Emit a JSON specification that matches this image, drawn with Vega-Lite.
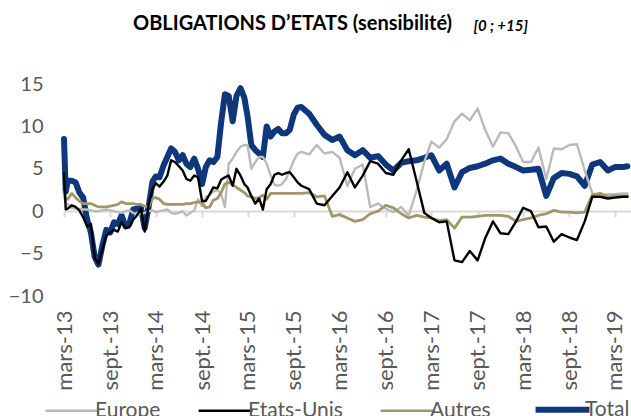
{
  "$schema": "https://vega.github.io/schema/vega-lite/v6.json",
  "width": 567,
  "height": 212,
  "autosize": {"type": "none"},
  "padding": {"left": 64, "top": 84, "right": 0, "bottom": 120},
  "background": "white",
  "config": {"font": "Lato", "view": {"stroke": null}},
  "title": {
    "text": "OBLIGATIONS D\u2019ETATS (sensibilité)",
    "anchor": "start",
    "frame": "group",
    "dx": 69,
    "offset": -16,
    "font": "Lato",
    "fontSize": 20,
    "fontWeight": "bold",
    "color": "#000000"
  },
  "data": {
    "values": [
      {"d":"2013-03-01","Europe":1.7,"Etats-Unis":4.5,"Autres":2.2,"Total":8.5},
      {"d":"2013-03-08","Europe":1.0,"Etats-Unis":0.2,"Autres":1.5,"Total":2.3},
      {"d":"2013-03-16","Europe":0.8,"Etats-Unis":0.3,"Autres":1.4,"Total":3.6},
      {"d":"2013-04-01","Europe":0.4,"Etats-Unis":0.7,"Autres":2.1,"Total":3.6},
      {"d":"2013-04-16","Europe":0.3,"Etats-Unis":0.5,"Autres":1.6,"Total":3.4},
      {"d":"2013-05-01","Europe":0.3,"Etats-Unis":0.1,"Autres":1.2,"Total":2.2},
      {"d":"2013-05-16","Europe":0.2,"Etats-Unis":-0.7,"Autres":0.9,"Total":1.6},
      {"d":"2013-06-01","Europe":0.2,"Etats-Unis":-1.8,"Autres":0.9,"Total":-1.0},
      {"d":"2013-06-16","Europe":0.1,"Etats-Unis":-1.5,"Autres":0.9,"Total":-2.5},
      {"d":"2013-07-01","Europe":0.0,"Etats-Unis":-5.5,"Autres":0.7,"Total":-5.4},
      {"d":"2013-07-16","Europe":0.0,"Etats-Unis":-6.2,"Autres":0.5,"Total":-6.3},
      {"d":"2013-08-01","Europe":0.1,"Etats-Unis":-4.5,"Autres":0.5,"Total":-4.0},
      {"d":"2013-08-16","Europe":0.2,"Etats-Unis":-2.9,"Autres":0.5,"Total":-2.2},
      {"d":"2013-09-01","Europe":0.1,"Etats-Unis":-2.5,"Autres":0.6,"Total":-2.5},
      {"d":"2013-09-16","Europe":0.0,"Etats-Unis":-2.2,"Autres":0.7,"Total":-1.3},
      {"d":"2013-10-01","Europe":-0.1,"Etats-Unis":-2.4,"Autres":0.8,"Total":-1.5},
      {"d":"2013-10-16","Europe":-0.2,"Etats-Unis":-1.3,"Autres":1.1,"Total":-0.5},
      {"d":"2013-11-01","Europe":0.0,"Etats-Unis":-2.0,"Autres":0.9,"Total":-1.8},
      {"d":"2013-11-16","Europe":0.1,"Etats-Unis":-1.9,"Autres":0.9,"Total":-1.5},
      {"d":"2013-12-01","Europe":-0.2,"Etats-Unis":-1.0,"Autres":0.9,"Total":0.2},
      {"d":"2013-12-16","Europe":-0.4,"Etats-Unis":-0.5,"Autres":0.8,"Total":0.3},
      {"d":"2014-01-01","Europe":-0.3,"Etats-Unis":0.3,"Autres":0.8,"Total":0.4},
      {"d":"2014-01-16","Europe":-0.2,"Etats-Unis":-2.4,"Autres":0.6,"Total":-2.0},
      {"d":"2014-02-01","Europe":0.0,"Etats-Unis":0.8,"Autres":0.5,"Total":0.6},
      {"d":"2014-02-16","Europe":0.1,"Etats-Unis":2.6,"Autres":1.5,"Total":3.5},
      {"d":"2014-03-01","Europe":-0.1,"Etats-Unis":3.3,"Autres":1.6,"Total":4.1},
      {"d":"2014-03-16","Europe":0.0,"Etats-Unis":2.9,"Autres":1.4,"Total":4.0},
      {"d":"2014-04-01","Europe":0.1,"Etats-Unis":3.5,"Autres":0.9,"Total":5.4},
      {"d":"2014-04-16","Europe":0.2,"Etats-Unis":4.2,"Autres":0.8,"Total":6.4},
      {"d":"2014-05-01","Europe":-0.2,"Etats-Unis":6.0,"Autres":0.8,"Total":7.4},
      {"d":"2014-05-16","Europe":-0.3,"Etats-Unis":5.8,"Autres":0.8,"Total":7.0},
      {"d":"2014-06-01","Europe":-0.2,"Etats-Unis":5.3,"Autres":0.8,"Total":6.0},
      {"d":"2014-06-16","Europe":0.0,"Etats-Unis":4.8,"Autres":0.8,"Total":6.6},
      {"d":"2014-07-01","Europe":-0.5,"Etats-Unis":3.8,"Autres":0.9,"Total":5.6},
      {"d":"2014-07-16","Europe":-0.2,"Etats-Unis":3.6,"Autres":0.9,"Total":5.2},
      {"d":"2014-08-01","Europe":0.1,"Etats-Unis":4.2,"Autres":1.0,"Total":6.2},
      {"d":"2014-08-16","Europe":1.4,"Etats-Unis":4.0,"Autres":1.1,"Total":5.0},
      {"d":"2014-09-01","Europe":0.6,"Etats-Unis":1.2,"Autres":1.0,"Total":3.2},
      {"d":"2014-09-16","Europe":1.7,"Etats-Unis":1.2,"Autres":0.4,"Total":5.2},
      {"d":"2014-10-01","Europe":1.9,"Etats-Unis":2.0,"Autres":0.5,"Total":6.0},
      {"d":"2014-10-16","Europe":2.3,"Etats-Unis":2.8,"Autres":1.3,"Total":5.8},
      {"d":"2014-11-01","Europe":2.5,"Etats-Unis":2.7,"Autres":1.5,"Total":6.4},
      {"d":"2014-11-16","Europe":2.0,"Etats-Unis":3.7,"Autres":2.2,"Total":10.5},
      {"d":"2014-12-01","Europe":0.5,"Etats-Unis":4.0,"Autres":3.2,"Total":13.8},
      {"d":"2014-12-16","Europe":5.6,"Etats-Unis":4.2,"Autres":3.4,"Total":13.6},
      {"d":"2015-01-01","Europe":6.2,"Etats-Unis":3.0,"Autres":3.1,"Total":10.6},
      {"d":"2015-01-16","Europe":7.0,"Etats-Unis":5.0,"Autres":2.8,"Total":13.6},
      {"d":"2015-02-01","Europe":7.6,"Etats-Unis":4.2,"Autres":2.5,"Total":14.5},
      {"d":"2015-02-16","Europe":7.8,"Etats-Unis":3.2,"Autres":2.2,"Total":13.4},
      {"d":"2015-03-01","Europe":7.8,"Etats-Unis":2.8,"Autres":1.8,"Total":11.2},
      {"d":"2015-03-16","Europe":5.0,"Etats-Unis":1.8,"Autres":1.7,"Total":7.8},
      {"d":"2015-04-01","Europe":5.8,"Etats-Unis":0.9,"Autres":1.5,"Total":7.2},
      {"d":"2015-04-16","Europe":6.4,"Etats-Unis":1.5,"Autres":1.6,"Total":6.8},
      {"d":"2015-05-01","Europe":6.4,"Etats-Unis":0.2,"Autres":1.9,"Total":6.4},
      {"d":"2015-05-16","Europe":5.6,"Etats-Unis":2.6,"Autres":1.4,"Total":10.0},
      {"d":"2015-06-01","Europe":4.2,"Etats-Unis":3.2,"Autres":2.1,"Total":8.8},
      {"d":"2015-06-16","Europe":3.1,"Etats-Unis":4.3,"Autres":2.1,"Total":9.4},
      {"d":"2015-07-01","Europe":3.0,"Etats-Unis":4.5,"Autres":2.1,"Total":9.7},
      {"d":"2015-07-16","Europe":3.2,"Etats-Unis":4.3,"Autres":2.1,"Total":9.2},
      {"d":"2015-08-01","Europe":3.8,"Etats-Unis":4.5,"Autres":2.1,"Total":9.2},
      {"d":"2015-08-16","Europe":4.8,"Etats-Unis":4.6,"Autres":2.1,"Total":9.6},
      {"d":"2015-09-01","Europe":6.0,"Etats-Unis":4.0,"Autres":2.1,"Total":11.4},
      {"d":"2015-09-16","Europe":6.8,"Etats-Unis":3.4,"Autres":2.1,"Total":12.2},
      {"d":"2015-10-01","Europe":7.0,"Etats-Unis":3.0,"Autres":2.1,"Total":12.3},
      {"d":"2015-11-01","Europe":6.7,"Etats-Unis":2.6,"Autres":2.2,"Total":11.5},
      {"d":"2015-12-01","Europe":7.8,"Etats-Unis":0.9,"Autres":1.7,"Total":10.2},
      {"d":"2016-01-01","Europe":6.8,"Etats-Unis":0.7,"Autres":1.8,"Total":9.0},
      {"d":"2016-02-01","Europe":7.0,"Etats-Unis":1.8,"Autres":-0.6,"Total":8.4},
      {"d":"2016-03-01","Europe":6.3,"Etats-Unis":2.8,"Autres":-0.4,"Total":8.8},
      {"d":"2016-04-01","Europe":3.0,"Etats-Unis":4.6,"Autres":-0.8,"Total":7.2},
      {"d":"2016-05-01","Europe":5.0,"Etats-Unis":2.8,"Autres":-1.2,"Total":6.6},
      {"d":"2016-06-01","Europe":5.5,"Etats-Unis":4.2,"Autres":-1.0,"Total":7.2},
      {"d":"2016-07-01","Europe":0.5,"Etats-Unis":5.9,"Autres":-0.3,"Total":6.3},
      {"d":"2016-08-01","Europe":0.9,"Etats-Unis":5.6,"Autres":0.0,"Total":6.5},
      {"d":"2016-09-01","Europe":0.3,"Etats-Unis":4.5,"Autres":0.7,"Total":5.5},
      {"d":"2016-10-01","Europe":-0.1,"Etats-Unis":4.3,"Autres":0.4,"Total":4.8},
      {"d":"2016-11-01","Europe":0.5,"Etats-Unis":6.0,"Autres":-0.3,"Total":5.7},
      {"d":"2016-12-01","Europe":-0.5,"Etats-Unis":7.3,"Autres":-0.8,"Total":5.9},
      {"d":"2017-01-01","Europe":2.4,"Etats-Unis":3.6,"Autres":-0.5,"Total":6.0},
      {"d":"2017-02-01","Europe":5.8,"Etats-Unis":-0.2,"Autres":-0.7,"Total":6.3},
      {"d":"2017-03-01","Europe":8.2,"Etats-Unis":-0.8,"Autres":-0.8,"Total":6.6},
      {"d":"2017-04-01","Europe":7.5,"Etats-Unis":-1.3,"Autres":-1.1,"Total":4.8},
      {"d":"2017-05-01","Europe":8.5,"Etats-Unis":-1.2,"Autres":-1.0,"Total":5.6},
      {"d":"2017-06-01","Europe":10.6,"Etats-Unis":-5.8,"Autres":-2.0,"Total":2.8},
      {"d":"2017-07-01","Europe":11.5,"Etats-Unis":-6.0,"Autres":-0.7,"Total":4.6},
      {"d":"2017-08-01","Europe":10.7,"Etats-Unis":-4.7,"Autres":-0.7,"Total":5.1},
      {"d":"2017-09-01","Europe":12.1,"Etats-Unis":-5.8,"Autres":-0.6,"Total":5.3},
      {"d":"2017-10-01","Europe":9.6,"Etats-Unis":-3.2,"Autres":-0.5,"Total":5.6},
      {"d":"2017-11-01","Europe":7.6,"Etats-Unis":-1.2,"Autres":-0.5,"Total":6.0},
      {"d":"2017-12-01","Europe":9.3,"Etats-Unis":-2.6,"Autres":-0.5,"Total":6.2},
      {"d":"2018-01-01","Europe":9.2,"Etats-Unis":-2.7,"Autres":-0.6,"Total":5.6},
      {"d":"2018-02-01","Europe":7.6,"Etats-Unis":-1.2,"Autres":-1.2,"Total":5.2},
      {"d":"2018-03-01","Europe":5.8,"Etats-Unis":0.4,"Autres":-1.0,"Total":4.8},
      {"d":"2018-04-01","Europe":5.8,"Etats-Unis":0.0,"Autres":-0.8,"Total":4.9},
      {"d":"2018-05-01","Europe":7.5,"Etats-Unis":-1.9,"Autres":-0.5,"Total":5.0},
      {"d":"2018-06-01","Europe":3.8,"Etats-Unis":-1.8,"Autres":-0.3,"Total":1.8},
      {"d":"2018-07-01","Europe":7.4,"Etats-Unis":-3.6,"Autres":0.1,"Total":3.9},
      {"d":"2018-08-01","Europe":7.3,"Etats-Unis":-2.7,"Autres":-0.1,"Total":4.5},
      {"d":"2018-09-01","Europe":7.8,"Etats-Unis":-3.1,"Autres":-0.1,"Total":4.4},
      {"d":"2018-10-01","Europe":7.9,"Etats-Unis":-3.4,"Autres":-0.2,"Total":4.1},
      {"d":"2018-11-01","Europe":4.8,"Etats-Unis":-1.2,"Autres":-0.1,"Total":3.0},
      {"d":"2018-12-01","Europe":2.1,"Etats-Unis":1.7,"Autres":1.9,"Total":5.5},
      {"d":"2019-01-01","Europe":1.9,"Etats-Unis":1.7,"Autres":2.1,"Total":5.8},
      {"d":"2019-02-01","Europe":2.0,"Etats-Unis":1.5,"Autres":1.7,"Total":4.8},
      {"d":"2019-03-01","Europe":2.0,"Etats-Unis":1.6,"Autres":1.8,"Total":5.2},
      {"d":"2019-04-01","Europe":2.1,"Etats-Unis":1.7,"Autres":1.8,"Total":5.2},
      {"d":"2019-04-20","Europe":2.1,"Etats-Unis":1.7,"Autres":1.8,"Total":5.3}
    ]
  },
  "transform": [
    {"fold": ["Total", "Europe", "Autres", "Etats-Unis"], "as": ["serie", "valeur"]}
  ],
  "mark": {"type": "line", "strokeJoin": "round", "strokeCap": "round"},
  "encoding": {
    "x": {
      "field": "d",
      "type": "temporal",
      "scale": {
        "type": "utc",
        "domain": [
          {"year": 2013, "month": 3, "date": 1, "utc": true},
          {"year": 2019, "month": 5, "date": 4, "utc": true}
        ]
      },
      "axis": {
        "title": null,
        "offset": -85,
        "domainColor": "#d9d9d9",
        "domainWidth": 2,
        "tickColor": "#d9d9d9",
        "tickWidth": 2,
        "tickSize": 6,
        "grid": false,
        "labelAngle": -90,
        "labelPadding": 93,
        "labelFont": "Lato",
        "labelFontSize": 22,
        "labelColor": "#595959",
        "labelOverlap": false,
        "values": [
          {"year": 2013, "month": 3, "date": 1, "utc": true},
          {"year": 2013, "month": 9, "date": 1, "utc": true},
          {"year": 2014, "month": 3, "date": 1, "utc": true},
          {"year": 2014, "month": 9, "date": 1, "utc": true},
          {"year": 2015, "month": 3, "date": 1, "utc": true},
          {"year": 2015, "month": 9, "date": 1, "utc": true},
          {"year": 2016, "month": 3, "date": 1, "utc": true},
          {"year": 2016, "month": 9, "date": 1, "utc": true},
          {"year": 2017, "month": 3, "date": 1, "utc": true},
          {"year": 2017, "month": 9, "date": 1, "utc": true},
          {"year": 2018, "month": 3, "date": 1, "utc": true},
          {"year": 2018, "month": 9, "date": 1, "utc": true},
          {"year": 2019, "month": 3, "date": 1, "utc": true}
        ],
        "labelExpr": "(utcmonth(datum.value) == 2 ? 'mars-' : 'sept.-') + utcFormat(datum.value, '%y')"
      }
    },
    "y": {
      "field": "valeur",
      "type": "quantitative",
      "scale": {"domain": [-10, 15], "nice": false, "zero": false},
      "axis": {
        "title": "[0 ; +15]",
        "titleAngle": 0,
        "titleAlign": "left",
        "titleBaseline": "alphabetic",
        "titleX": 409,
        "titleY": -54,
        "titleFont": "Lato",
        "titleFontSize": 15,
        "titleFontWeight": "bold",
        "titleFontStyle": "italic",
        "titleColor": "#000000",
        "values": [-10, -5, 0, 5, 10, 15],
        "domain": false,
        "ticks": false,
        "tickSize": 0,
        "grid": false,
        "labelPadding": 21,
        "labelFont": "Lato",
        "labelFontSize": 20,
        "labelColor": "#595959"
      }
    },
    "color": {
      "field": "serie",
      "type": "nominal",
      "scale": {
        "domain": ["Europe", "Etats-Unis", "Autres", "Total"],
        "range": ["#bababa", "#000000", "#a09868", "#0f377b"]
      },
      "legend": {
        "title": null,
        "orient": "none",
        "direction": "horizontal",
        "legendX": -2,
        "legendY": 315,
        "symbolType": "stroke",
        "symbolSize": 2900,
        "symbolStrokeWidth": 2.5,
        "labelOffset": 12,
        "columnPadding": 32,
        "labelFont": "Lato",
        "labelFontSize": 21,
        "labelColor": "#595959",
        "labelLimit": 300,
        "encode": {
          "symbols": {
            "update": {
              "strokeWidth": {"signal": "datum.value === 'Total' ? 6 : 2.5"}
            }
          }
        }
      }
    },
    "strokeWidth": {
      "condition": [
        {"test": "datum.serie === 'Total'", "value": 6},
        {"test": "datum.serie === 'Autres'", "value": 2.8}
      ],
      "value": 2.4
    }
  }
}
